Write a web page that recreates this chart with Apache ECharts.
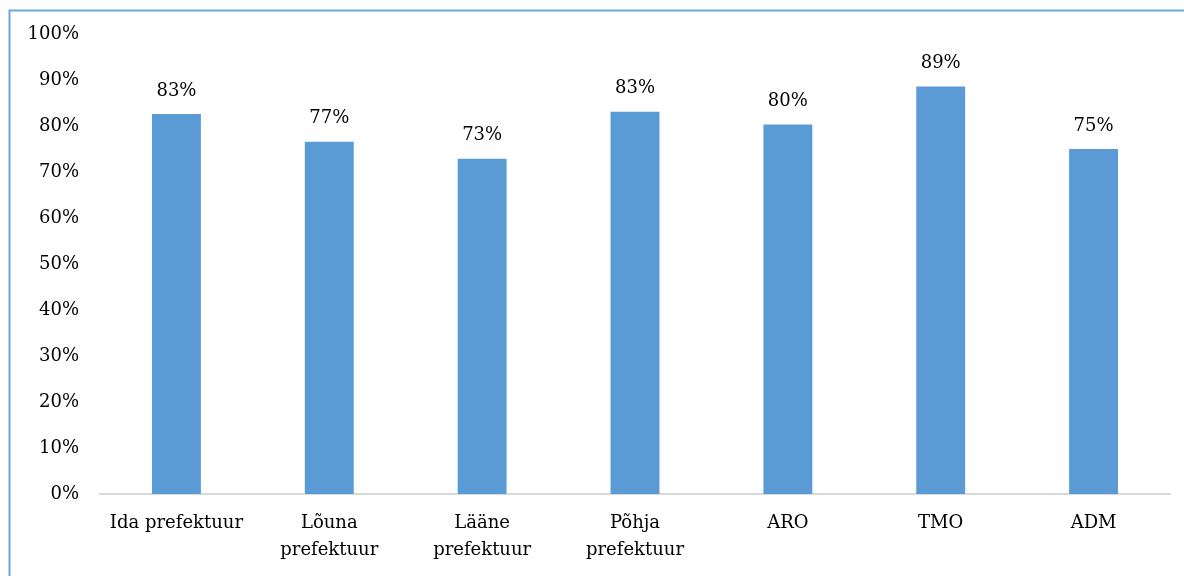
<!DOCTYPE html>
<html><head><meta charset="utf-8">
<script src="https://cdn.jsdelivr.net/npm/echarts@6/dist/echarts.min.js"></script>
<style>html,body{margin:0;padding:0;background:#fff}#c{width:1184px;height:576px}</style>
</head><body><div id="c"></div>
<script>
const categories = ['Ida prefektuur', 'Lõuna\nprefektuur', 'Lääne\nprefektuur', 'Põhja\nprefektuur', 'ARO', 'TMO', 'ADM'];
const values = [82.6, 76.6, 72.9, 83.1, 80.3, 88.6, 75.0];
const yTicks = [0, 10, 20, 30, 40, 50, 60, 70, 80, 90, 100];

const font = '"DejaVu Serif", serif';
const chart = echarts.init(document.getElementById('c'));
chart.setOption({
  animation: false,
  backgroundColor: '#fff',
  graphic: [{
    type: 'rect', left: 7, top: 8, shape: { width: 1250, height: 650 },
    style: { fill: 'none', stroke: '#6fa4da', lineWidth: 2 }, silent: true
  }],
  grid: { left: 100, right: 14, top: 34, bottom: 82 },
  xAxis: {
    type: 'category', data: categories,
    axisLine: { lineStyle: { color: '#d9d9d9', width: 2 } },
    axisTick: { show: false },
    axisLabel: { fontFamily: font, fontSize: 18, color: '#000', margin: 16, lineHeight: 27, interval: 0 }
  },
  yAxis: {
    type: 'value', min: yTicks[0], max: yTicks[yTicks.length - 1], interval: 10,
    axisLine: { show: false }, axisTick: { show: false }, splitLine: { show: false },
    axisLabel: { fontFamily: font, fontSize: 18, color: '#000', margin: 21, formatter: v => v + '%' }
  },
  series: [{
    type: 'bar', data: values, barWidth: '32%',
    itemStyle: { color: '#5b9bd5' },
    label: { show: true, position: 'top', distance: 14, fontFamily: font, fontSize: 18, color: '#000',
      formatter: p => Math.round(p.value) + '%' }
  }]
});
</script></body></html>
